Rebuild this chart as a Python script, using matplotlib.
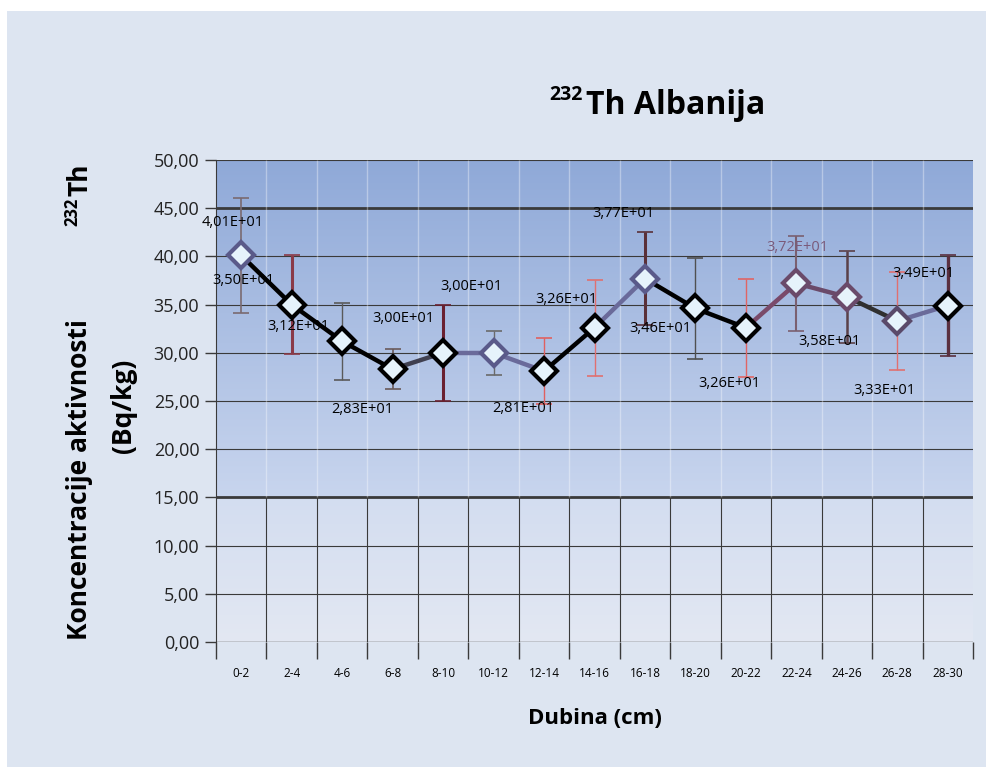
import numpy as np
import matplotlib
matplotlib.use("Agg")
import matplotlib.pyplot as plt
from matplotlib.patches import Rectangle

# podaci
dubina = ['0-2', '2-4', '4-6', '6-8', '8-10', '10-12', '12-14', '14-16',
          '16-18', '18-20', '20-22', '22-24', '24-26', '26-28', '28-30']
th232 = [40.1, 35.0, 31.2, 28.3, 30.0, 30.0, 28.1, 32.6,
         37.7, 34.6, 32.6, 37.2, 35.8, 33.3, 34.9]
greska = [6.0, 5.1, 4.0, 2.1, 5.0, 2.3, 3.4, 5.0,
          4.8, 5.2, 5.1, 4.9, 4.8, 5.1, 5.2]
y_ticks = [0, 5, 10, 15, 20, 25, 30, 35, 40, 45, 50]

# izgled (pomaci natpisa u pikselima, boje)
label_dx = [-9, -48, -44, -30, -40, -22, -21, -28, -22, -35, -17, 1, -17, -13, -24]
label_dy = [33, 24, 15, -40, 34, 66, -37, 28, 65, -20, -56, 36, -45, -70, 32]
err_colors = ['#7a6a70', '#8a3a48', '#5a5a5a', '#6a5a5a', '#6a2030', '#6a6a6a', '#e06060',
              '#e07070', '#5a3038', '#505050', '#e06565', '#7a6070', '#5a4048', '#e07070', '#5a3040']
err_lw = [1.2, 2.2, 1.0, 1.2, 2.2, 1.0, 1.0, 1.0, 2.2, 1.0, 1.0, 1.5, 1.8, 1.0, 2.4]
edge_colors = ['#5a5a8a', 'black', 'black', 'black', 'black', '#5a5a8a', 'black', 'black',
               '#5a5a8a', 'black', 'black', '#6a4a6a', '#6a4a6a', '#5a4a6a', 'black']
seg_colors = ['black', 'black', 'black', '#404050', '#6a6a9a', '#6a6a9a', 'black',
              '#6a6a9a', 'black', 'black', '#7a4a6a', '#6a4a6a', '#303030', '#6a6a9a']

W, H = 986, 767
fig = plt.figure(figsize=(W / 100, H / 100), dpi=100, facecolor='white')
fig.patches.append(Rectangle((7 / W, 0), 1, 1 - 11 / H, transform=fig.transFigure,
                             facecolor='#dde5f1', edgecolor='none', zorder=-10))

ax = fig.add_axes([216 / W, 1 - 642 / H, 757 / W, 482 / H])
ax.set_facecolor('none')
x = np.arange(len(dubina))

# pozadina: gornji plavi gradijent, donji svijetli
grad = np.linspace(0, 1, 256).reshape(-1, 1)
cmap_top = matplotlib.colors.LinearSegmentedColormap.from_list('t', ['#c8d5ee', '#8fa9d8'])
cmap_bot = matplotlib.colors.LinearSegmentedColormap.from_list('b', ['#e3e8f3', '#d3ddf0'])
ax.imshow(grad, cmap=cmap_top, extent=(-0.5, 14.5, 15, 50), aspect='auto', origin='lower', zorder=0)
ax.imshow(grad, cmap=cmap_bot, extent=(-0.5, 14.5, 0, 15), aspect='auto', origin='lower', zorder=0)
ax.set_xlim(-0.5, len(dubina) - 0.5)
ax.set_ylim(0, 50)

for yv in y_ticks[1:]:
    lw = 2.0 if yv in (15, 45) else 0.8
    ax.axhline(yv, color='#3a3a3a', lw=lw, zorder=1)
for b in x[:-1] + 0.5:
    ax.vlines(b, 0, 15, color='#3a3a3a', lw=0.8, zorder=1)
    ax.vlines(b, 15, 50, color='white', lw=1.0, alpha=0.35, zorder=1)

for s in ['top', 'right', 'bottom']:
    ax.spines[s].set_visible(False)
ax.spines['left'].set_color('#3a3a3a')
ax.axhline(0, color='#3a3a3a', lw=1.0, zorder=1)

# greske
for i in range(len(x)):
    ax.errorbar(x[i], th232[i], yerr=greska[i], fmt='none', ecolor=err_colors[i],
                elinewidth=err_lw[i], capsize=6, capthick=1.2, zorder=2)

# linija
for i in range(len(x) - 1):
    ax.plot(x[i:i + 2], th232[i:i + 2], color=seg_colors[i], lw=3.2, zorder=3,
            solid_capstyle='butt')
for i in range(len(x)):
    ax.plot(x[i], th232[i], marker='D', markersize=13, markerfacecolor='#e6f3fb',
            markeredgecolor=edge_colors[i], markeredgewidth=3, zorder=4, linestyle='none')

# natpisi vrijednosti
for i in range(len(x)):
    txt = f"{th232[i]:.2E}".replace('.', ',')
    col = '#7a5a7a' if i == 11 else 'black'
    ax.annotate(txt, (x[i], th232[i]), xytext=(label_dx[i], label_dy[i]),
                textcoords='offset pixels', ha='center', va='center',
                fontsize=10.5, color=col, family='Open Sans', zorder=5)

ax.set_yticks(y_ticks)
ax.set_yticklabels([f"{v:.2f}".replace('.', ',') for v in y_ticks],
                   fontsize=13, family='Open Sans', color='#222222')
ax.tick_params(axis='y', length=8, width=1, color='#3a3a3a', pad=4)
ax.set_xticks(np.arange(-0.5, len(dubina), 1))
ax.set_xticklabels([])
ax.tick_params(axis='x', which='major', length=12, width=1, color='#3a3a3a')
ax.set_xticks(x, minor=True)
ax.set_xticklabels(dubina, minor=True, fontsize=8.5, family='Open Sans')
ax.tick_params(axis='x', which='minor', length=0, pad=18)

# naslovi
fig.text(549 / W, 1 - 95 / H, '232', fontsize=14, fontweight='bold', ha='left', va='center',
         family='Open Sans')
fig.text(586 / W, 1 - 105 / H, 'Th Albanija', fontsize=23, fontweight='bold',
         ha='left', va='center', family='Open Sans')
fig.text(595 / W, 1 - 718 / H, 'Dubina (cm)', fontsize=16, fontweight='bold',
         ha='center', va='center', family='Open Sans')
fig.text(80 / W, 1 - 480 / H, 'Koncentracije aktivnosti', fontsize=19, fontweight='bold',
         rotation=90, ha='center', va='center', family='Open Sans')
fig.text(124 / W, 1 - 406 / H, '(Bq/kg)', fontsize=19, fontweight='bold',
         rotation=90, ha='center', va='center', family='Open Sans')
fig.text(72 / W, 1 - 212 / H, '232', fontsize=12, fontweight='bold',
         rotation=90, ha='center', va='center', family='Open Sans')
fig.text(80 / W, 1 - 180 / H, 'Th', fontsize=19, fontweight='bold',
         rotation=90, ha='center', va='center', family='Open Sans')

fig.savefig('out.png', dpi=100, facecolor=fig.get_facecolor())
